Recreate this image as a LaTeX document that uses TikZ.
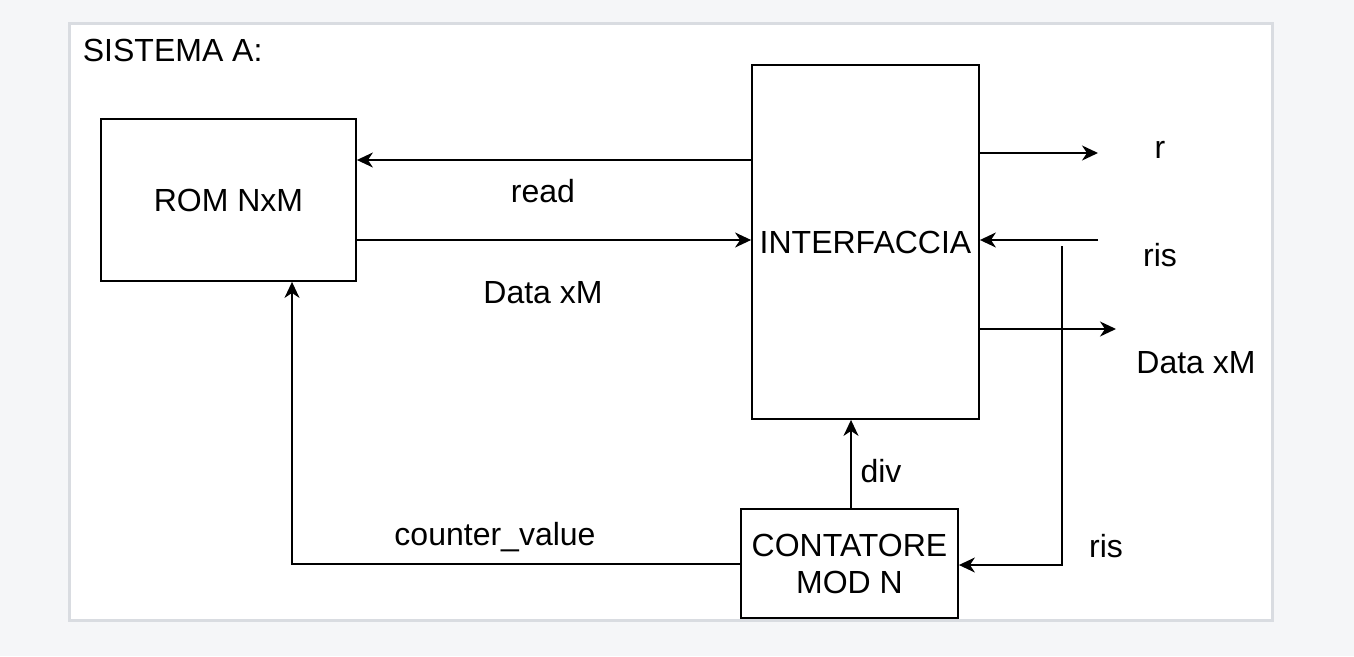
\documentclass[tikz,border=0pt]{standalone}
\usepackage{fontspec}
\setmainfont{Liberation Sans}
\usetikzlibrary{arrows.meta,positioning,calc}
\definecolor{pagebg}{HTML}{F5F6F8}
\definecolor{panelline}{HTML}{D9DCE1}

\begin{document}
\begin{tikzpicture}[x=1pt, y=-1pt, line width=1.8pt,
    font=\fontsize{32}{37}\selectfont]
\tikzstyle{block}=[draw=black, line width=1.8pt, inner sep=0pt, align=center]
\tikzstyle{lbl}=[inner sep=0pt, anchor=center]
\tikzstyle{arr}=[-{Stealth[length=16pt,width=15pt,inset=5pt]}]
% page and panel
\fill[pagebg] (0,0) rectangle (1354,656);
\filldraw[fill=white, draw=panelline, line width=3pt] (69.5,23.5) rectangle (1272.5,620.5);
\node[lbl, anchor=west]  (title) at (82,50) {SISTEMA A:};
% blocks
\node[block, minimum width=255pt, minimum height=162pt] (rom)  at (228.5,200) {ROM NxM};
\node[block, minimum width=227pt, minimum height=354pt] (intf) at (865.5,242) {INTERFACCIA};
\node[block, minimum width=217pt, minimum height=109pt] (cnt)  at (849.5,563.5) {CONTATORE\\MOD N};
% free ends
\coordinate (rout)  at (1098,153);
\coordinate (risin) at (1098,240);
\coordinate (dout)  at (1116,329);
\coordinate (tap)   at (1062,246);
\coordinate (tapb)  at (1062,565);
\coordinate (cvb)   at (292,564);
% connectors
\draw[arr] (intf.west |- 0,160) -- (rom.east |- 0,160);
\draw[arr] (rom.east |- 0,240) -- (intf.west |- 0,240);
\draw[arr] (intf.east |- rout) -- (rout);
\draw[arr] (risin) -- (intf.east |- risin);
\draw[arr] (intf.east |- dout) -- (dout);
\draw[arr] (tap) -- (tapb) -- (cnt.east |- tapb);
\draw[arr] (cnt.north -| 851,0) -- (intf.south -| 851,0);
\draw[arr] (cnt.west |- cvb) -- (cvb) -- (rom.south -| cvb);
% labels
\node[lbl] (lread) at (543,191) {read};
\node[lbl] (ldata) at (543,293) {Data xM};
\node[lbl] (lr)    at (1160,150) {r};
\node[lbl] (lris)  at (1160,255) {ris};
\node[lbl] (ldout) at (1196,363) {Data xM};
\node[lbl] (lrisb) at (1106,546) {ris};
\node[lbl] (ldiv)  at (881,471) {div};
\node[lbl] (lcv)   at (495,537) {counter\_value};
\end{tikzpicture}
\end{document}
